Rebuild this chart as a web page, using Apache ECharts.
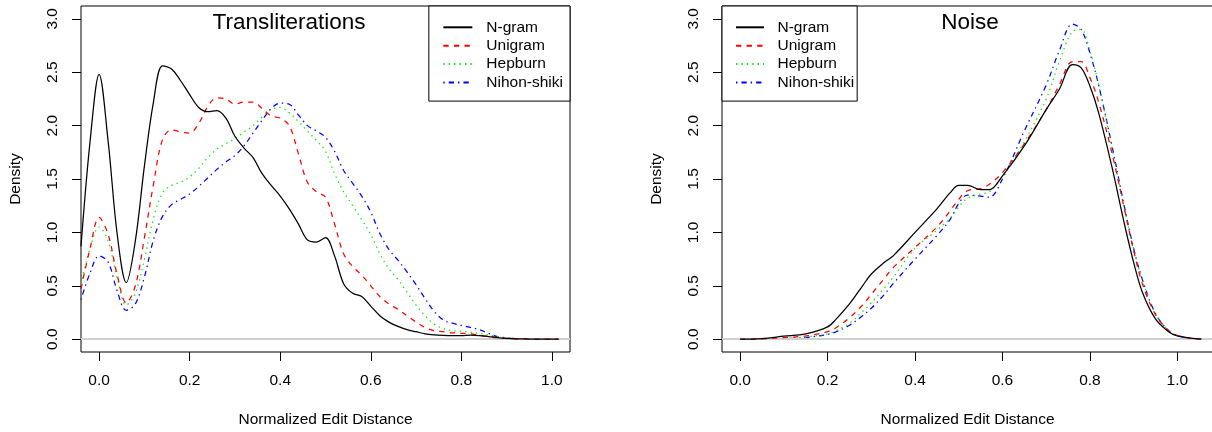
<!DOCTYPE html>
<html>
<head>
<meta charset="utf-8">
<script src="https://cdn.jsdelivr.net/npm/echarts@6/dist/echarts.min.js"></script>
<style>
  html, body { margin: 0; padding: 0; background: #ffffff; }
  #chart { width: 1212px; height: 432px; }
</style>
</head>
<body>
<div id="chart"></div>
<script>
// Kernel density estimates of normalized edit distance

const seriesNames = ['N-gram', 'Unigram', 'Hepburn', 'Nihon-shiki'];
const xTicks = [0, 0.2, 0.4, 0.6, 0.8, 1.0];
const yTicks = [0, 0.5, 1.0, 1.5, 2.0, 2.5, 3.0];

// Transliterations panel
const translitX = [-0.04, -0.02, 0, 0.02, 0.04, 0.06, 0.08, 0.1, 0.12, 0.14, 0.16, 0.18, 0.2, 0.22, 0.24, 0.26, 0.28, 0.3,
  0.32, 0.34, 0.36, 0.38, 0.4, 0.42, 0.44, 0.46, 0.48, 0.5, 0.52, 0.54, 0.56, 0.58, 0.6, 0.62, 0.64, 0.66, 0.68, 0.7,
  0.72, 0.74, 0.76, 0.78, 0.8, 0.82, 0.84, 0.86, 0.88, 0.9, 0.92, 0.94, 0.96, 0.98, 1.0, 1.015];
const translitNgram = [0.87, 1.85, 2.48, 1.85, 0.98, 0.53, 0.92, 1.62, 2.22, 2.56, 2.53, 2.42, 2.29, 2.17, 2.13, 2.14, 2.07, 1.9,
  1.79, 1.7, 1.55, 1.44, 1.34, 1.22, 1.08, 0.93, 0.91, 0.95, 0.78, 0.52, 0.43, 0.4, 0.31, 0.22, 0.16, 0.12, 0.09, 0.07,
  0.05, 0.04, 0.035, 0.033, 0.033, 0.037, 0.034, 0.025, 0.015, 0.008, 0.004, 0.002, 0.001, 0, 0, 0];
const translitUnigram = [0.47, 0.85, 1.14, 0.98, 0.6, 0.34, 0.5, 0.95, 1.45, 1.87, 1.96, 1.94, 1.93, 2.02, 2.18, 2.26, 2.25, 2.2,
  2.22, 2.22, 2.16, 2.09, 2.07, 2.0, 1.74, 1.47, 1.38, 1.33, 1.08, 0.8, 0.68, 0.6, 0.5, 0.4, 0.33, 0.28, 0.22, 0.16,
  0.11, 0.08, 0.07, 0.06, 0.055, 0.05, 0.035, 0.025, 0.013, 0.007, 0.004, 0.002, 0.001, 0, 0, 0];
const translitHepburn = [0.52, 0.85, 1.05, 0.92, 0.57, 0.32, 0.43, 0.75, 1.13, 1.37, 1.44, 1.47, 1.52, 1.6, 1.7, 1.78, 1.83, 1.88,
  1.94, 2.0, 2.08, 2.15, 2.17, 2.12, 2.04, 1.95, 1.86, 1.76, 1.55, 1.38, 1.25, 1.12, 0.98, 0.8, 0.66, 0.56, 0.44, 0.32,
  0.22, 0.14, 0.1, 0.08, 0.075, 0.065, 0.055, 0.04, 0.025, 0.012, 0.006, 0.003, 0.001, 0, 0, 0];
const translitNihon = [0.37, 0.62, 0.78, 0.72, 0.45, 0.27, 0.33, 0.58, 0.93, 1.15, 1.26, 1.31, 1.36, 1.43, 1.51, 1.59, 1.66, 1.72,
  1.81, 1.93, 2.05, 2.16, 2.21, 2.2, 2.1, 2.0, 1.95, 1.89, 1.76, 1.58, 1.46, 1.34, 1.19, 0.99, 0.84, 0.74, 0.63, 0.51,
  0.38, 0.26, 0.18, 0.15, 0.13, 0.11, 0.09, 0.055, 0.025, 0.012, 0.007, 0.003, 0.001, 0, 0, 0];

// Noise panel
const noiseX = [0, 0.05, 0.1, 0.15, 0.2, 0.22, 0.25, 0.28, 0.3, 0.33, 0.35, 0.4, 0.45, 0.48, 0.5, 0.52, 0.55, 0.57,
  0.6, 0.65, 0.7, 0.73, 0.76, 0.78, 0.8, 0.82, 0.85, 0.88, 0.9, 0.92, 0.95, 0.98, 1.0, 1.03, 1.055];
const noiseNgram = [0, 0.006, 0.028, 0.05, 0.115, 0.19, 0.33, 0.5, 0.61, 0.72, 0.78, 1.0, 1.22, 1.37, 1.44, 1.44, 1.4, 1.4,
  1.53, 1.81, 2.15, 2.34, 2.57, 2.54, 2.37, 2.12, 1.62, 1.06, 0.72, 0.44, 0.19, 0.07, 0.03, 0.01, 0];
const noiseUnigram = [0, 0.004, 0.015, 0.03, 0.07, 0.11, 0.2, 0.32, 0.42, 0.57, 0.67, 0.86, 1.05, 1.2, 1.31, 1.39, 1.41, 1.45,
  1.56, 1.83, 2.15, 2.38, 2.6, 2.6, 2.45, 2.22, 1.75, 1.2, 0.83, 0.52, 0.23, 0.08, 0.035, 0.01, 0];
const noiseHepburn = [0, 0.002, 0.008, 0.02, 0.05, 0.08, 0.15, 0.26, 0.34, 0.48, 0.58, 0.85, 1.02, 1.13, 1.24, 1.32, 1.36, 1.38,
  1.52, 1.85, 2.25, 2.6, 2.88, 2.9, 2.7, 2.38, 1.8, 1.2, 0.85, 0.55, 0.24, 0.08, 0.035, 0.01, 0];
const noiseNihon = [0, 0.001, 0.005, 0.015, 0.045, 0.07, 0.13, 0.22, 0.29, 0.42, 0.52, 0.75, 0.97, 1.12, 1.27, 1.35, 1.34, 1.33,
  1.5, 1.95, 2.38, 2.7, 2.95, 2.9, 2.68, 2.38, 1.82, 1.22, 0.85, 0.56, 0.24, 0.08, 0.035, 0.01, 0];

const FONT = '"Liberation Sans", Arial, Helvetica, sans-serif';
const lineColors = ['#000000', '#ff0000', '#00f000', '#0000ff'];
const lineTypes = ['solid', [5.3, 5.3], [1.4, 4], [1.4, 4, 5.3, 4]];

const pair = (xs, ys) => xs.map((x, i) => [x, ys[i]]);

const zeroLine = {
  silent: true,
  symbol: ['none', 'none'],
  label: { show: false },
  emphasis: { disabled: true },
  lineStyle: { color: '#d0d0d0', width: 2, type: 'solid' },
  data: [{ yAxis: 0 }]
};

function makeSeries(xs, ysList, idx) {
  return ysList.map((ys, k) => ({
    name: seriesNames[k],
    type: 'line',
    xAxisIndex: idx,
    yAxisIndex: idx,
    data: pair(xs, ys),
    smooth: 0.35,
    symbol: 'none',
    showSymbol: false,
    clip: true,
    z: 3 + (3 - k),
    lineStyle: { color: lineColors[k], width: 1.25, type: lineTypes[k] },
    itemStyle: { color: lineColors[k] },
    emphasis: { disabled: true },
    markLine: k === 0 ? zeroLine : undefined
  }));
}

function xAxisFor(idx, min, max) {
  return {
    gridIndex: idx, type: 'value', min: min, max: max,
    axisLine: { show: false, onZero: false },
    splitLine: { show: false },
    axisTick: { show: true, customValues: xTicks, length: 9, inside: false, lineStyle: { color: '#000', width: 1 } },
    axisLabel: { customValues: xTicks, formatter: v => v.toFixed(1), margin: 21, fontSize: 15.5, color: '#000', fontFamily: FONT },
    name: 'Normalized Edit Distance', nameLocation: 'middle', nameGap: 60,
    nameTextStyle: { fontSize: 15.5, color: '#000', fontFamily: FONT }
  };
}

function yAxisFor(idx) {
  return {
    gridIndex: idx, type: 'value', min: -0.12, max: 3.12,
    axisLine: { show: false, onZero: false },
    splitLine: { show: false },
    axisTick: { show: true, customValues: yTicks, length: 9, inside: false, lineStyle: { color: '#000', width: 1 } },
    axisLabel: { customValues: yTicks, formatter: v => v.toFixed(1), rotate: 90, margin: 20, fontSize: 15.5, color: '#000', fontFamily: FONT },
    name: 'Density', nameLocation: 'middle', nameGap: 57,
    nameTextStyle: { fontSize: 15.5, color: '#000', fontFamily: FONT }
  };
}

const legendBase = {
  data: seriesNames, orient: 'vertical', top: 6, align: 'left',
  itemHeight: 14, itemGap: 2.4,
  borderColor: '#000', borderWidth: 1, backgroundColor: '#fff', selectedMode: false,
  itemStyle: { color: 'rgba(0,0,0,0)', borderColor: 'rgba(0,0,0,0)', borderWidth: 0, opacity: 0 }
};
const legendText = (padLeft) => ({ fontSize: 15.5, color: '#000', fontFamily: FONT, padding: [0, 0, 0, padLeft], lineHeight: 14 });

const option = {
  animation: false,
  backgroundColor: '#ffffff',
  title: [
    { text: 'Transliterations', left: 289, top: 11.5, textAlign: 'center', padding: 0,
      textStyle: { fontSize: 22.5, fontWeight: 'normal', color: '#000', fontFamily: FONT } },
    { text: 'Noise', left: 970, top: 11.5, textAlign: 'center', padding: 0,
      textStyle: { fontSize: 22.5, fontWeight: 'normal', color: '#000', fontFamily: FONT } }
  ],
  legend: [
    Object.assign({}, legendBase, { right: 642, padding: [13.3, 7, 10.6, 13.5], itemWidth: 29, textStyle: legendText(9) }),
    Object.assign({}, legendBase, { left: 722, padding: [13.3, 3, 10.6, 13], itemWidth: 28, textStyle: legendText(8.5) })
  ],
  grid: [
    { left: 81, top: 6, width: 489, height: 346, show: true, borderColor: '#000', borderWidth: 1,
      backgroundColor: 'transparent', containLabel: false, outerBoundsMode: 'none' },
    { left: 722, top: 6, width: 491, height: 346, show: true, borderColor: '#000', borderWidth: 1,
      backgroundColor: 'transparent', containLabel: false, outerBoundsMode: 'none' }
  ],
  xAxis: [xAxisFor(0, -0.04, 1.04), xAxisFor(1, -0.0416, 1.0816)],
  yAxis: [yAxisFor(0), yAxisFor(1)],
  series: [
    ...makeSeries(translitX, [translitNgram, translitUnigram, translitHepburn, translitNihon], 0),
    ...makeSeries(noiseX, [noiseNgram, noiseUnigram, noiseHepburn, noiseNihon], 1)
  ]
};

const chart = echarts.init(document.getElementById('chart'), null, { renderer: 'canvas' });
chart.setOption(option);
</script>
</body>
</html>
